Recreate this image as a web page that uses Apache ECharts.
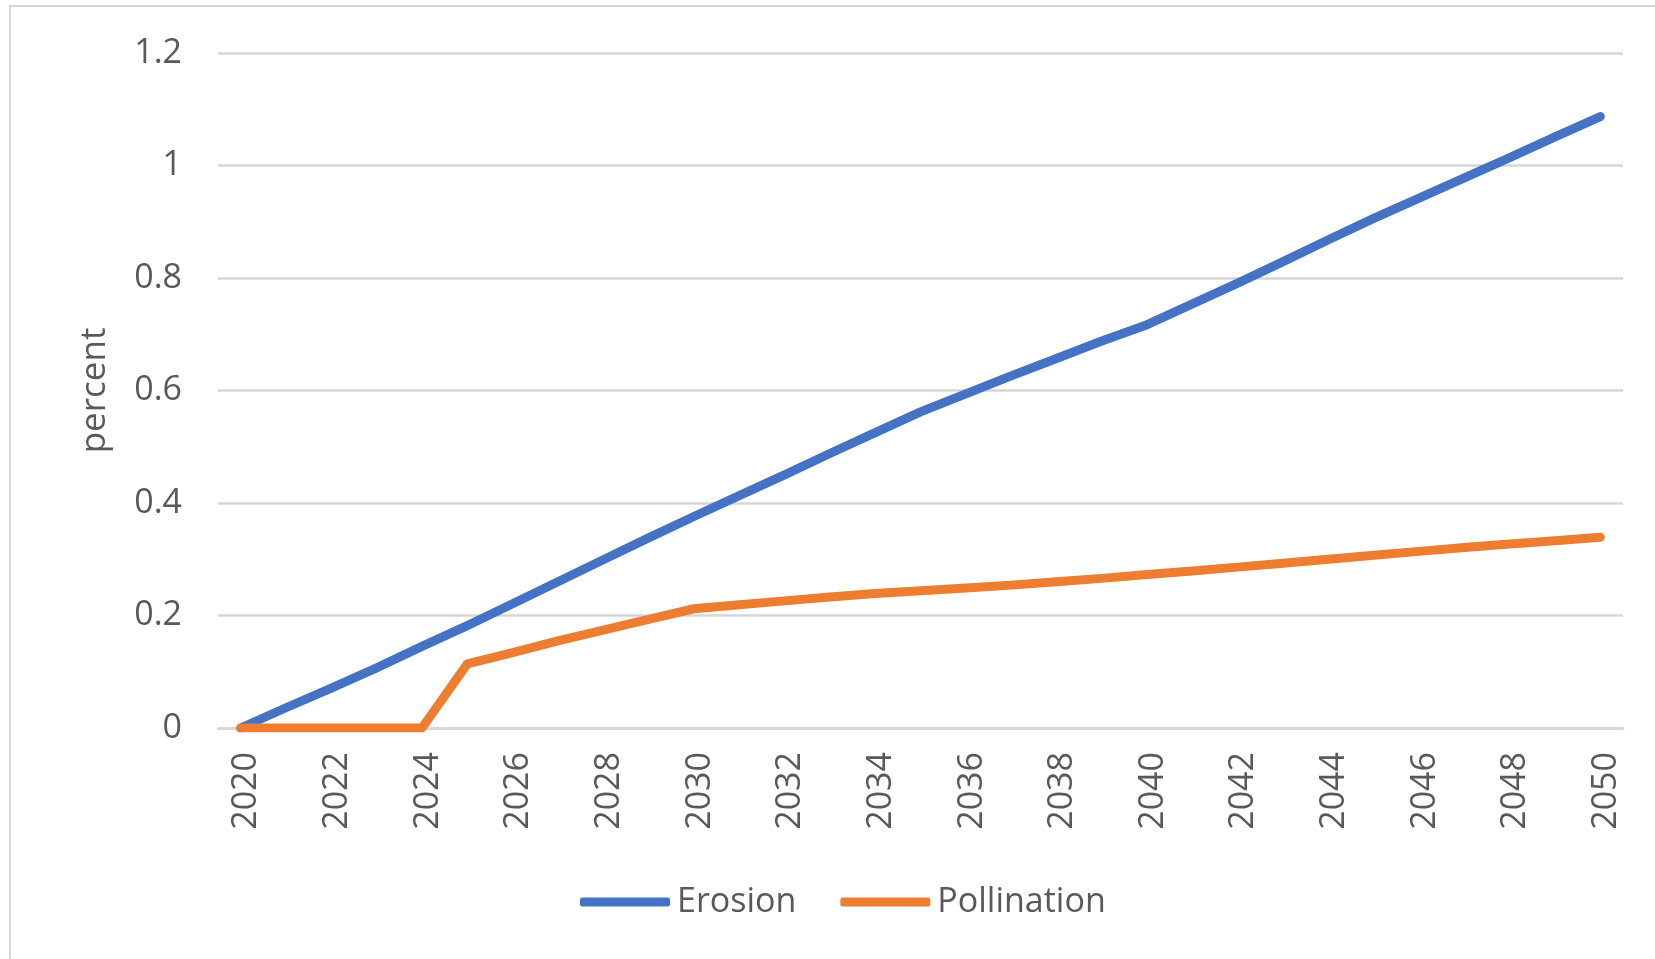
<!DOCTYPE html>
<html>
<head>
<meta charset="utf-8">
<title>Erosion and Pollination</title>
<script src="https://cdn.jsdelivr.net/npm/echarts@6/dist/echarts.min.js"></script>
<style>
  html, body { margin: 0; padding: 0; background: #ffffff; }
  #chart { width: 1655px; height: 959px; }
</style>
</head>
<body>
<div id="chart"></div>
<script>
// Years on the category axis
const years = [];
for (let y = 2020; y <= 2050; y++) years.push(String(y));

// Annual values, percent
const erosion = [
  0, 0.036, 0.071, 0.107, 0.145, 0.182, 0.221, 0.26, 0.299, 0.338,
  0.376, 0.413, 0.45, 0.488, 0.525, 0.562, 0.594, 0.626, 0.657, 0.688,
  0.717, 0.754, 0.791, 0.829, 0.868, 0.906, 0.942, 0.978, 1.014, 1.051,
  1.087
];
const pollination = [
  0, 0, 0, 0, 0, 0.114, 0.134, 0.155, 0.174, 0.193,
  0.212, 0.219, 0.226, 0.233, 0.239, 0.244, 0.249, 0.254, 0.26, 0.266,
  0.273, 0.279, 0.286, 0.293, 0.3, 0.307, 0.314, 0.321, 0.327, 0.333,
  0.339
];

const seriesNames = ['Erosion', 'Pollination'];
const seriesColors = ['#4472C4', '#ED7D31'];

const FONT = '"Open Sans", "Noto Sans", sans-serif';
const TEXT = '#595959';
const GRID = '#d6d6d6';

const chart = echarts.init(document.getElementById('chart'), null, { renderer: 'canvas' });

function lineSeries(name, data, color) {
  return {
    name: name,
    type: 'line',
    data: data,
    symbol: 'none',
    smooth: false,
    lineStyle: { color: color, width: 9, cap: 'round', join: 'round' },
    itemStyle: { color: color },
    emphasis: { disabled: true }
  };
}

chart.setOption({
  animation: false,
  backgroundColor: '#ffffff',
  textStyle: { fontFamily: FONT },
  // thin frame around the whole chart area
  graphic: [{
    type: 'rect',
    shape: { x: 10, y: 6, width: 1700, height: 1000 },
    style: { fill: 'none', stroke: GRID, lineWidth: 2 },
    silent: true
  }],
  grid: { left: 218, right: 32, top: 53, height: 675, containLabel: false },
  xAxis: {
    type: 'category',
    data: years,
    boundaryGap: true,
    axisLine: { show: true, lineStyle: { color: GRID, width: 2.5 } },
    axisTick: { show: false },
    axisLabel: {
      interval: 1,
      rotate: 90,
      margin: 24,
      color: TEXT,
      fontSize: 34,
      fontFamily: FONT,
      verticalAlign: 'top',
      lineHeight: 12
    },
    splitLine: { show: false }
  },
  yAxis: {
    type: 'value',
    min: 0,
    max: 1.2,
    interval: 0.2,
    name: 'percent',
    nameLocation: 'middle',
    nameRotate: 90,
    nameGap: 105,
    nameTextStyle: { color: TEXT, fontSize: 35, fontFamily: FONT },
    axisLine: { show: false },
    axisTick: { show: false },
    axisLabel: {
      margin: 36,
      color: TEXT,
      fontSize: 34,
      fontFamily: FONT,
      formatter: function (v) { return String(Math.round(v * 10) / 10); }
    },
    splitLine: { show: true, lineStyle: { color: GRID, width: 2.5 } }
  },
  legend: {
    data: seriesNames,
    left: 575,
    top: 880,
    icon: 'roundRect',
    itemWidth: 90,
    itemHeight: 9,
    itemGap: 44,
    textStyle: { color: TEXT, fontSize: 34, fontFamily: FONT, padding: [0, 0, 0, 2] }
  },
  series: [
    lineSeries(seriesNames[0], erosion, seriesColors[0]),
    lineSeries(seriesNames[1], pollination, seriesColors[1])
  ]
});
</script>
</body>
</html>
